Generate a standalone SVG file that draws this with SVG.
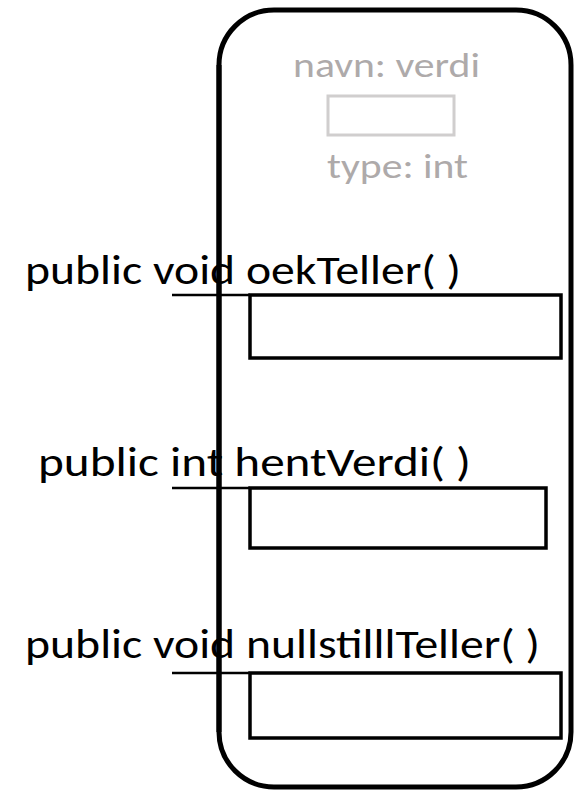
<svg xmlns="http://www.w3.org/2000/svg" width="576" height="791" viewBox="0 0 576 791">
  <style>
    .label { font-family: Carlito, "Open Sans", "Liberation Sans", sans-serif; font-size: 41px; fill: #000; }
    .field { font-family: Carlito, "Open Sans", "Liberation Sans", sans-serif; font-size: 35px; fill: #aeaaaa; }
    .slot { fill: #fff; stroke: #000; stroke-width: 3.5; }
    .conn { stroke: #000; stroke-width: 2.5; fill: none; }
  </style>
  <rect width="576" height="791" fill="#fff"/>

  <!-- object outline -->
  <g id="object">
    <rect x="219" y="10" width="352" height="777" rx="55" ry="55" fill="none" stroke="#000" stroke-width="5"/>
  </g>

  <!-- instance variable -->
  <g id="field-verdi">
    <text class="field" x="293" y="77" textLength="187" lengthAdjust="spacingAndGlyphs">navn: verdi</text>
    <rect x="328" y="96" width="126" height="39" fill="#fff" stroke="#d0cece" stroke-width="3"/>
    <text class="field" x="327" y="178" textLength="141" lengthAdjust="spacingAndGlyphs">type: int</text>
  </g>

  <!-- method stubs -->
  <g id="connectors">
    <line class="conn" x1="172" y1="295" x2="250" y2="295"/>
    <line class="conn" x1="172" y1="488" x2="250" y2="488"/>
    <line class="conn" x1="172" y1="673" x2="250" y2="673"/>
  </g>

  <g id="method-oekTeller">
    <text class="label" x="25" y="284" textLength="436" lengthAdjust="spacingAndGlyphs">public void oekTeller( )</text>
    <rect class="slot" x="250" y="295" width="311" height="63"/>
  </g>

  <g id="method-hentVerdi">
    <text class="label" x="38" y="476" textLength="433" lengthAdjust="spacingAndGlyphs">public int  hentVerdi( )</text>
    <rect class="slot" x="250" y="488" width="296" height="60"/>
  </g>

  <g id="method-nullstilllTeller">
    <text class="label" x="25" y="658" textLength="515" lengthAdjust="spacingAndGlyphs">public void nullstilllTeller( )</text>
    <rect class="slot" x="250" y="673" width="311" height="65"/>
  </g>

  <!-- outline drawn again so the left edge sits over the labels -->
  <line x1="219" y1="65" x2="219" y2="732" stroke="#000" stroke-width="5"/>
</svg>
